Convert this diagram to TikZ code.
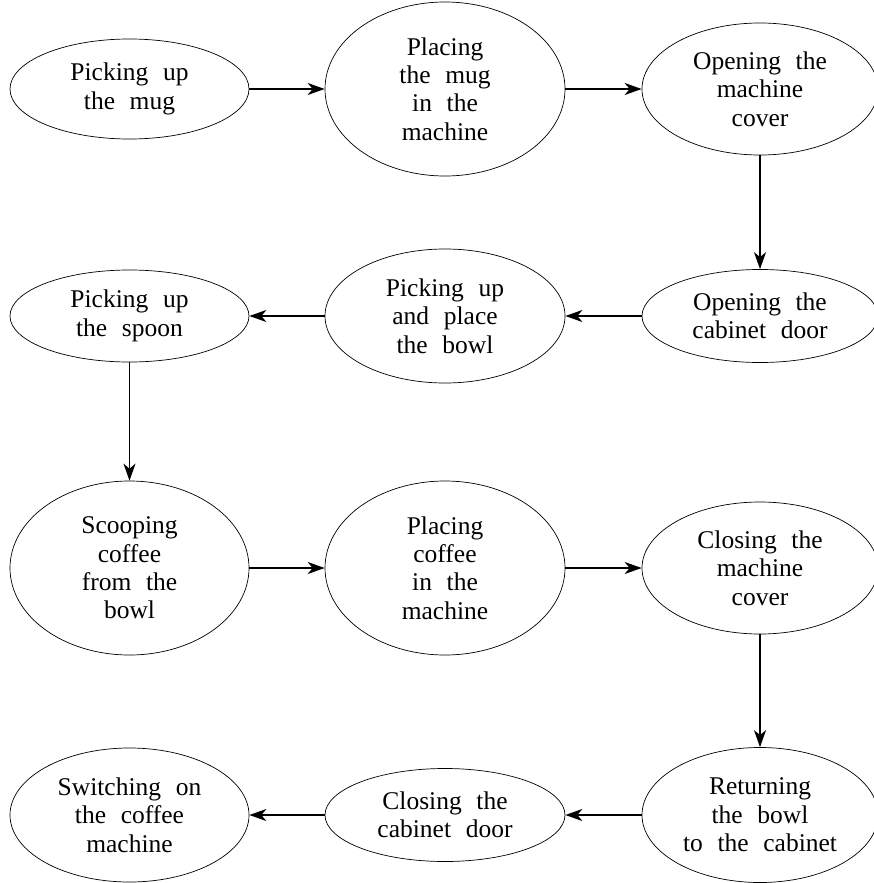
\documentclass[tikz,border=0pt]{standalone}
\usepackage{fontspec}
\setmainfont{Liberation Serif}[WordSpace=2.3]
\usetikzlibrary{shapes.geometric,arrows.meta}
\begin{document}
\begin{tikzpicture}[x=1pt,y=-1pt,
  stepnode/.style={draw,ellipse,inner sep=0pt,line width=0.7pt,align=center,
    font=\fontsize{25.5}{28.4}\selectfont},
  flow/.style={line width=1.7pt,-{Stealth[length=17pt,width=12pt,inset=5pt]}}]
\useasboundingbox (0,0) rectangle (873,883);
% row 1
\node[stepnode,minimum width=239pt,minimum height=100pt] (n1) at (129.5,89) {Picking up\\the mug};
\node[stepnode,minimum width=240pt,minimum height=174pt] (n2) at (445,89) {Placing\\the mug\\in the\\machine};
\node[stepnode,minimum width=236pt,minimum height=132pt] (n3) at (760,89) {Opening the\\machine\\cover};
% row 2
\node[stepnode,minimum width=236pt,minimum height=93pt] (n4) at (760,316) {Opening the\\cabinet door};
\node[stepnode,minimum width=240pt,minimum height=134pt] (n5) at (445,316) {Picking up\\and place\\the bowl};
\node[stepnode,minimum width=239pt,minimum height=92pt] (n6) at (129.5,316) {Picking up\\the spoon};
% row 3
\node[stepnode,minimum width=239pt,minimum height=174pt] (n7) at (129.5,568) {Scooping\\coffee\\from the\\bowl};
\node[stepnode,minimum width=240pt,minimum height=174pt] (n8) at (445,568) {Placing\\coffee\\in the\\machine};
\node[stepnode,minimum width=236pt,minimum height=132pt] (n9) at (760,568) {Closing the\\machine\\cover};
% row 4
\node[stepnode,minimum width=236pt,minimum height=135pt] (n10) at (760,815) {Returning\\the bowl\\to the cabinet};
\node[stepnode,minimum width=240pt,minimum height=93pt] (n11) at (445,815) {Closing the\\cabinet door};
\node[stepnode,minimum width=239pt,minimum height=134pt] (n12) at (129.5,815) {Switching on\\the coffee\\machine};
% connectors
\draw[flow] (n1) -- (n2);
\draw[flow] (n2) -- (n3);
\draw[flow] (n3) -- (n4);
\draw[flow] (n4) -- (n5);
\draw[flow] (n5) -- (n6);
\draw[flow] (n6) -- (n7);
\draw[flow] (n7) -- (n8);
\draw[flow] (n8) -- (n9);
\draw[flow] (n9) -- (n10);
\draw[flow] (n10) -- (n11);
\draw[flow] (n11) -- (n12);
\end{tikzpicture}
\end{document}
